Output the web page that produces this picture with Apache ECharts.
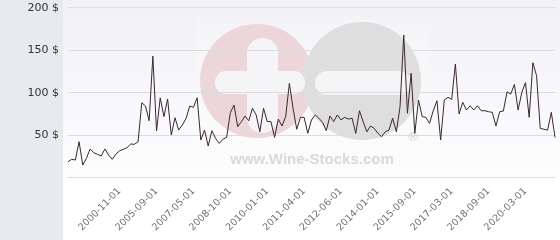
<!DOCTYPE html>
<html>
<head>
<meta charset="utf-8">
<script src="https://cdn.jsdelivr.net/npm/echarts@6/dist/echarts.min.js"></script>
<style>
html,body{margin:0;padding:0;background:#fff;}
#chart{width:560px;height:240px;}
</style>
</head>
<body>
<div id="chart"></div>
<script>
// Price series (USD)
const prices = [
  18.8, 21.6, 20.8, 42.4, 14.9, 22.8, 33.8, 29.4, 27.5, 25.5,
  33.8, 26.7, 21.6, 27.9, 31.8, 33.4, 35.3, 39.6, 39.3, 42.4,
  88.2, 84.3, 67, 143, 55, 94, 71.8, 92.6, 50.2, 70.6,
  56, 62, 69.8, 84.3, 82.8, 94, 44.3, 56, 37.3, 55.3,
  46.3, 40.4, 45.2, 47.5, 76.5, 85.5, 60, 66, 72.6, 67,
  81.6, 73.8, 54, 81.6, 66, 66, 47.5, 69, 60.8, 71.8,
  111, 81.6, 57, 71, 71, 52.2, 68, 73.8, 70, 65,
  55.3, 72.6, 66, 73.8, 68, 71,
  69, 70, 52.2, 78.8, 66, 54, 60.8, 58, 52.2, 48.2,
  54, 56, 70, 54, 83.5, 167.9, 75.8, 122.8, 52.2, 91.4,
  71.8, 71, 64, 78.8, 90.6,
  44.3, 91.4, 94.6, 92.2, 133.8, 75, 88.7, 79.6, 84.7, 79.6,
  84.7, 78.8, 78.8, 77.6, 76.9, 60.8, 77.6, 78.4, 101, 98.4,
  109.8, 79.6, 100.4, 111.8, 71, 135.3, 120, 58, 57, 56,
  76.9, 47.5
];
// Date labels shown on the x axis
const tickLabels = [
  '2000-11-01', '2005-09-01', '2007-05-01', '2008-10-01', '2010-01-01', '2011-04-01',
  '2012-06-01', '2014-01-01', '2015-09-01', '2017-03-01', '2018-09-01', '2020-03-01'
];
const firstTick = 14;
const tickStep = 10;
// y-axis ticks
const yMin = 0, yMax = 200, yStep = 50;

const categories = prices.map((_, i) => {
  if (i >= firstTick && (i - firstTick) % tickStep === 0) {
    const k = (i - firstTick) / tickStep;
    return tickLabels[k] !== undefined ? tickLabels[k] : '';
  }
  return '';
});

const chart = echarts.init(document.getElementById('chart'), null, {renderer: 'canvas'});
chart.setOption({
  animation: false,
  backgroundColor: '#ffffff',
  textStyle: {fontFamily: 'DejaVu Sans'},
  graphic: {
    z: -100,
    elements: [
      {type: 'rect', z: -100, shape: {x: 0, y: 0, width: 63, height: 240}, style: {fill: '#e7ebee'}},
      {type: 'rect', z: -100, shape: {x: 63, y: 0, width: 497, height: 178},
        style: {fill: new echarts.graphic.LinearGradient(0, 0, 0, 1, [
          {offset: 0, color: '#f1f1f6'}, {offset: 1, color: '#fdfdfe'}])}},
      {type: 'rect', z: -99, shape: {x: 196, y: 17, width: 234, height: 157},
        style: {fill: 'rgba(255,255,255,0.2)'}},
      {type: 'circle', z: -98, shape: {cx: 257, cy: 81, r: 57}, style: {fill: '#ecd6da'}},
      {type: 'circle', z: -97, shape: {cx: 362, cy: 81, r: 59}, style: {fill: '#dedede'}},
      {type: 'rect', z: -96, shape: {x: 247, y: 38, width: 31, height: 95, r: 15}, style: {fill: '#f5f5f8'}},
      {type: 'rect', z: -96, shape: {x: 215, y: 71, width: 90, height: 23, r: 11}, style: {fill: '#f5f5f8'}},
      {type: 'rect', z: -96, shape: {x: 315, y: 71, width: 96, height: 24, r: 12}, style: {fill: '#f5f5f8'}},
      {type: 'text', z: -95, x: 312, y: 160,
        style: {text: 'www.Wine-Stocks.com', fill: '#d9d9d9', font: 'bold 15px "Liberation Sans", Arial, sans-serif',
          textAlign: 'center', textVerticalAlign: 'middle'}},
      {type: 'text', z: -95, x: 413, y: 138,
        style: {text: '®', fill: '#d4d4d4', font: '13px "DejaVu Sans", sans-serif',
          textAlign: 'center', textVerticalAlign: 'middle'}}
    ]
  },
  grid: {left: 68, right: 5, top: 7.7, bottom: 62.3, containLabel: false},
  xAxis: {
    type: 'category',
    data: categories,
    boundaryGap: false,
    axisLine: {show: true, lineStyle: {color: '#dcdcdc', width: 1}},
    axisTick: {show: false},
    splitLine: {show: false},
    axisLabel: {
      interval: 0,
      rotate: 45,
      margin: 12,
      color: '#707070',
      fontSize: 9.6,
      fontFamily: 'DejaVu Sans'
    }
  },
  yAxis: {
    type: 'value',
    min: yMin,
    max: yMax,
    interval: yStep,
    axisLine: {show: false},
    axisTick: {show: false},
    splitLine: {show: true, lineStyle: {color: '#dcdcdc', width: 1}},
    axisLabel: {
      margin: 9,
      color: '#333333',
      fontSize: 11,
      fontFamily: 'DejaVu Sans',
      formatter: v => (v === 0 ? '' : v + ' $')
    }
  },
  series: [{
    type: 'line',
    data: prices,
    showSymbol: false,
    symbol: 'none',
    lineStyle: {color: '#3b2730', width: 1},
    z: 5
  }]
});
</script>
</body>
</html>
